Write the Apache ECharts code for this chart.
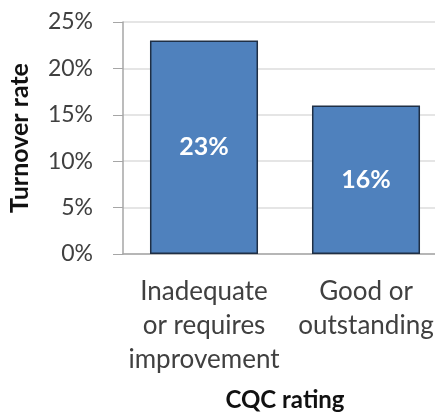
<!DOCTYPE html>
<html>
<head>
<meta charset="utf-8">
<script src="https://cdn.jsdelivr.net/npm/echarts@6/dist/echarts.min.js"></script>
<style>
  html, body { margin: 0; padding: 0; background: #fff; }
  #main { width: 435px; height: 414px; }
</style>
</head>
<body>
<div id="main"></div>
<script>
// data
var categories = ['Inadequate\nor requires\nimprovement', 'Good or\noutstanding'];
var turnover = [23, 16];
var yTicks = [0, 5, 10, 15, 20, 25];

var font = 'Lato, "Open Sans", sans-serif';
var chart = echarts.init(document.getElementById('main'));

var option = {
  animation: false,
  // plot runs past the right edge of the picture, like the cropped original
  grid: { left: 123, top: 22, width: 324, height: 232, containLabel: false, outerBoundsMode: 'none' },
  xAxis: {
    type: 'category',
    data: categories,
    name: 'CQC rating',
    nameLocation: 'middle',
    nameGap: 134,
    nameTextStyle: { fontFamily: font, fontWeight: 'bold', fontSize: 24, color: '#111' },
    axisLine: { lineStyle: { color: '#a6a6a6', width: 1.5 } },
    axisTick: { show: false },
    axisLabel: {
      interval: 0, fontFamily: font, fontSize: 26, color: '#404040',
      lineHeight: 34, margin: 21
    }
  },
  yAxis: {
    type: 'value',
    min: yTicks[0],
    max: yTicks[yTicks.length - 1],
    interval: 5,
    name: 'Turnover rate',
    nameLocation: 'middle',
    nameGap: 91,
    nameTextStyle: { fontFamily: font, fontWeight: 'bold', fontSize: 25, color: '#111' },
    axisLine: { show: true, lineStyle: { color: '#a6a6a6', width: 1.5 } },
    axisTick: { show: true, length: 10, inside: false, lineStyle: { color: '#a6a6a6' } },
    splitLine: { lineStyle: { color: '#dcdcdc', width: 1.5 } },
    axisLabel: {
      fontFamily: font, fontSize: 23, color: '#404040', margin: 30,
      formatter: function (v) { return v + '%'; }
    }
  },
  series: [{
    type: 'bar',
    data: turnover,
    barWidth: '66.7%',
    itemStyle: { color: '#4f81bd', borderColor: '#1f2f45', borderWidth: 1.5 },
    label: {
      show: true, position: 'inside', fontFamily: font, fontWeight: 'bold',
      fontSize: 25, color: '#fff',
      formatter: function (p) { return p.value + '%'; }
    }
  }]
};
chart.setOption(option);
</script>
</body>
</html>
